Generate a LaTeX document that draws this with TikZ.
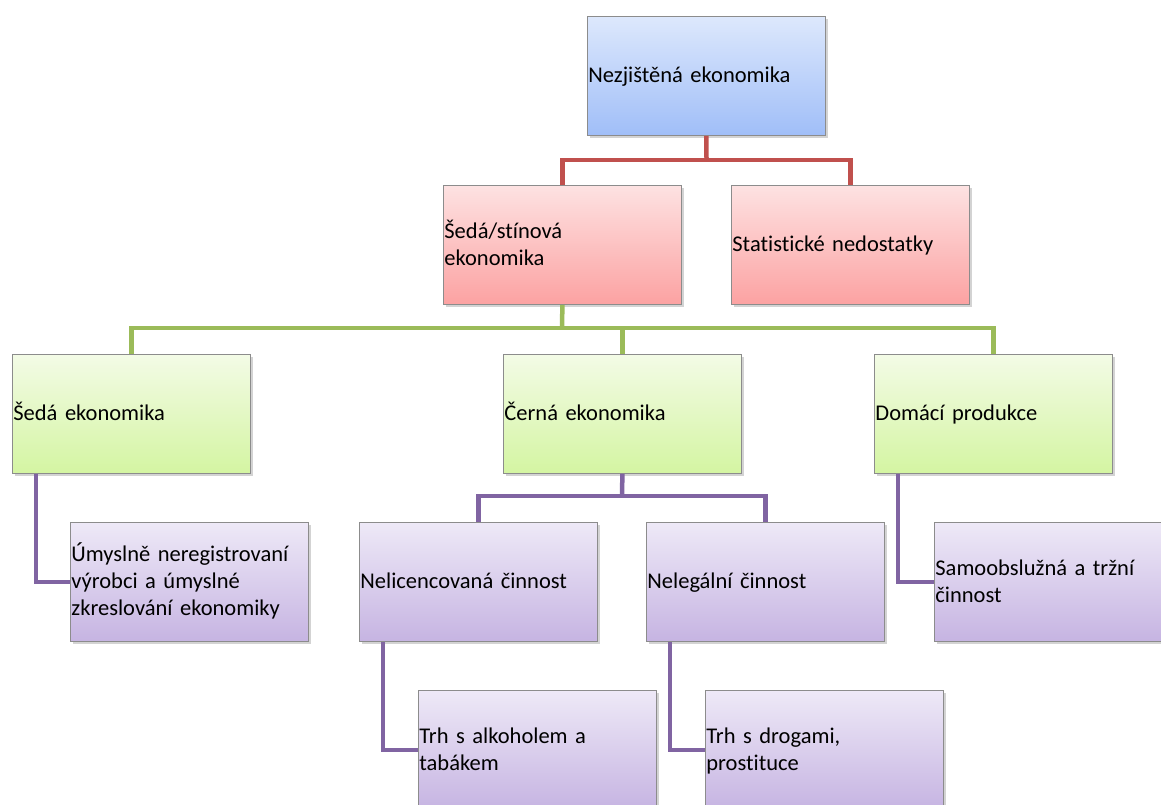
\documentclass[tikz,border=0pt]{standalone}
\usepackage{fontspec}
\setmainfont[Ligatures={NoCommon}]{Carlito}
\usetikzlibrary{shadows}
\definecolor{redline}{HTML}{C0504D}
\definecolor{greenline}{HTML}{9BBB59}
\definecolor{purpleline}{HTML}{8064A2}
\definecolor{boxborder}{HTML}{8C8C8C}
\definecolor{bluetop}{RGB}{221,232,252}
\definecolor{bluebot}{RGB}{160,190,248}
\definecolor{pinktop}{RGB}{253,226,226}
\definecolor{pinkbot}{RGB}{252,162,162}
\definecolor{greentop}{RGB}{243,251,230}
\definecolor{greenbot}{RGB}{212,245,162}
\definecolor{purpletop}{RGB}{238,233,247}
\definecolor{purplebot}{RGB}{198,180,226}
\newcommand{\boxstrut}{\rule[-6.5pt]{0pt}{27pt}}
\tikzset{
  box/.style={draw=boxborder, line width=0.8pt, rectangle, anchor=north west,
    minimum width=238pt, minimum height=119pt, inner xsep=1pt, inner ysep=0pt,
    text width=236pt, align=left, font=\fontsize{22.5}{27}\selectfont,
    execute at begin node={\boxstrut}, execute at end node={\boxstrut},
    drop shadow={opacity=0.35, shadow xshift=2.5pt, shadow yshift=-2.5pt}},
  bluebox/.style={box, top color=bluetop, bottom color=bluebot},
  pinkbox/.style={box, top color=pinktop, bottom color=pinkbot},
  greenbox/.style={box, top color=greentop, bottom color=greenbot},
  purplebox/.style={box, top color=purpletop, bottom color=purplebot},
  rline/.style={draw=redline, line width=4.5pt},
  gline/.style={draw=greenline, line width=4.5pt},
  pline/.style={draw=purpleline, line width=4.5pt},
}
\begin{document}
\begin{tikzpicture}[x=1pt,y=-1pt]
\useasboundingbox (0,0) rectangle (1161,805);
\coordinate (rb) at (706.5,160);
\coordinate (gb) at (562,328);
\coordinate (pb) at (622,496);
\node[bluebox] (top) at (587,16) {Nezjištěná ekonomika};
\node[pinkbox] (sh) at (443,185) {Šedá/stínová\\ekonomika};
\node[pinkbox] (st) at (731,185) {Statistické nedostatky};
\node[greenbox] (se) at (12,354) {Šedá ekonomika};
\node[greenbox] (ce) at (503,354) {Černá ekonomika};
\node[greenbox] (dp) at (874,354) {Domácí produkce};
\node[purplebox] (um) at (70,522) {Úmyslně neregistrovaní\\výrobci a úmyslné\\zkreslování ekonomiky};
\node[purplebox] (nl) at (359,522) {Nelicencovaná činnost};
\node[purplebox] (ng) at (646,522) {Nelegální činnost};
\node[purplebox] (so) at (934,522) {Samoobslužná a tržní\\činnost};
\node[purplebox] (ta) at (418,690) {Trh s alkoholem a\\tabákem};
\node[purplebox] (td) at (705,690) {Trh s drogami,\\prostituce};
% red
\draw[rline] (top.south) -- (rb);
\draw[rline] (sh.north) |- (rb) -| (st.north);
% green
\draw[gline] (sh.south) -- (gb);
\draw[gline] (se.north) |- (gb) -| (dp.north);
\draw[gline] (gb) -| (ce.north);
% purple
\draw[pline] (ce.south) -- (pb);
\draw[pline] (nl.north) |- (pb) -| (ng.north);
\draw[pline] ([xshift=24pt]se.south west) |- (um.west);
\draw[pline] ([xshift=24pt]nl.south west) |- (ta.west);
\draw[pline] ([xshift=24pt]ng.south west) |- (td.west);
\draw[pline] ([xshift=24pt]dp.south west) |- (so.west);
\end{tikzpicture}
\end{document}
